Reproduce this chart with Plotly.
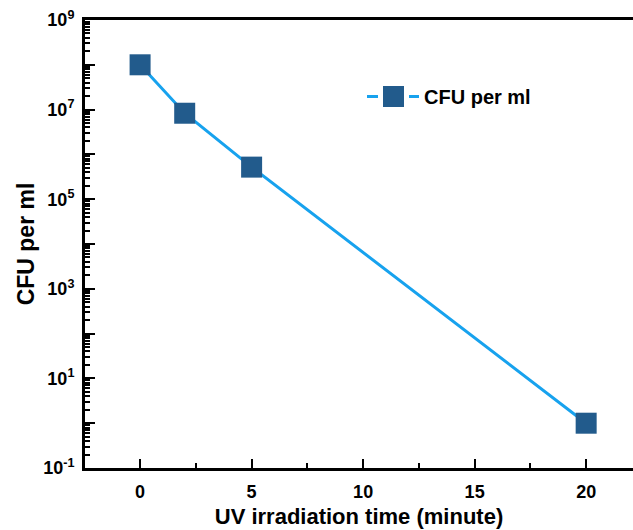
import plotly.graph_objects as go

# UV exposure time (minutes) and surviving colony counts
time_min = [0, 2, 5, 20]
cfu_per_ml = [1.0e8, 8.3e6, 5.2e5, 1.0]
series_name = "CFU per ml"

# Decades on the y axis; only every second one carries a label
decade_exponents = list(range(-1, 10))
labelled_exponents = [-1, 1, 3, 5, 7, 9]

y_tickvals = [10.0 ** e for e in decade_exponents]
y_ticktext = [f"<b>10<sup>{e}</sup></b>" if e in labelled_exponents else "" for e in decade_exponents]
y_minor_vals = [k * 10.0 ** e for e in decade_exponents[:-1] for k in range(2, 10)]

x_tickvals = [0, 5, 10, 15, 20]
x_minor_vals = [2.5, 7.5, 12.5, 17.5]

font_family = "Liberation Sans, Arial, sans-serif"
line_color = "#17a2ee"
marker_color = "#225b8c"

W, H = 633, 530
M_L, M_R, M_T, M_B = 85, 0, 20, 62


def paper_x(px):
    return (px - M_L) / (W - M_L - M_R)


def paper_y(py):
    return (H - M_B - py) / (H - M_T - M_B)


fig = go.Figure()
fig.add_trace(go.Scatter(
    x=time_min,
    y=cfu_per_ml,
    mode="lines+markers",
    name=series_name,
    showlegend=False,
    line=dict(color=line_color, width=3),
    marker=dict(symbol="square", size=21, color=marker_color,
                line=dict(width=0)),
))

# Legend key: short line dashes either side of a square marker, then the label
legend_y = 96.5
for x0, x1 in [(367, 378), (409, 419)]:
    fig.add_shape(type="line", xref="paper", yref="paper",
                  x0=paper_x(x0), x1=paper_x(x1),
                  y0=paper_y(legend_y), y1=paper_y(legend_y),
                  line=dict(color=line_color, width=3))
fig.add_shape(type="rect", xref="paper", yref="paper",
              x0=paper_x(383), x1=paper_x(404),
              y0=paper_y(legend_y + 10.5), y1=paper_y(legend_y - 10.5),
              fillcolor=marker_color, line=dict(width=0))
fig.add_annotation(xref="paper", yref="paper",
                   x=paper_x(422), y=paper_y(legend_y),
                   xanchor="left", yanchor="middle", showarrow=False,
                   text=f"<b>{series_name}</b>",
                   font=dict(size=20, family=font_family, color="black"))

fig.update_layout(
    width=W,
    height=H,
    margin=dict(l=M_L, r=M_R, t=M_T, b=M_B),
    paper_bgcolor="white",
    plot_bgcolor="white",
    font=dict(family=font_family, color="black", size=17),
    showlegend=False,
    xaxis=dict(
        range=[-2.47, 22.1],
        tickmode="array",
        tickvals=x_tickvals,
        ticktext=[f"<b>{v}</b>" for v in x_tickvals],
        ticks="inside",
        ticklen=9,
        tickwidth=2,
        tickcolor="black",
        minor=dict(tickmode="array", tickvals=x_minor_vals, ticks="inside",
                   ticklen=5, tickwidth=2, tickcolor="black"),
        showline=True,
        linecolor="black",
        linewidth=3,
        mirror=True,
        showgrid=False,
        zeroline=False,
        tickfont=dict(size=18),
        ticklabelstandoff=5,
        title=dict(text="<b>UV irradiation time (minute)</b>",
                   font=dict(size=22), standoff=9),
    ),
    yaxis=dict(
        type="log",
        range=[-1, 9],
        tickmode="array",
        tickvals=y_tickvals,
        ticktext=y_ticktext,
        ticks="inside",
        ticklen=10,
        tickwidth=2,
        tickcolor="black",
        minor=dict(tickmode="array", tickvals=y_minor_vals, ticks="inside",
                   ticklen=5, tickwidth=1.5, tickcolor="black"),
        showline=True,
        linecolor="black",
        linewidth=3,
        showgrid=False,
        zeroline=False,
        tickfont=dict(size=18),
        ticklabelstandoff=4,
        title=dict(text="<b>CFU per ml</b>", font=dict(size=23), standoff=3),
    ),
)

fig.write_html("out.html")
